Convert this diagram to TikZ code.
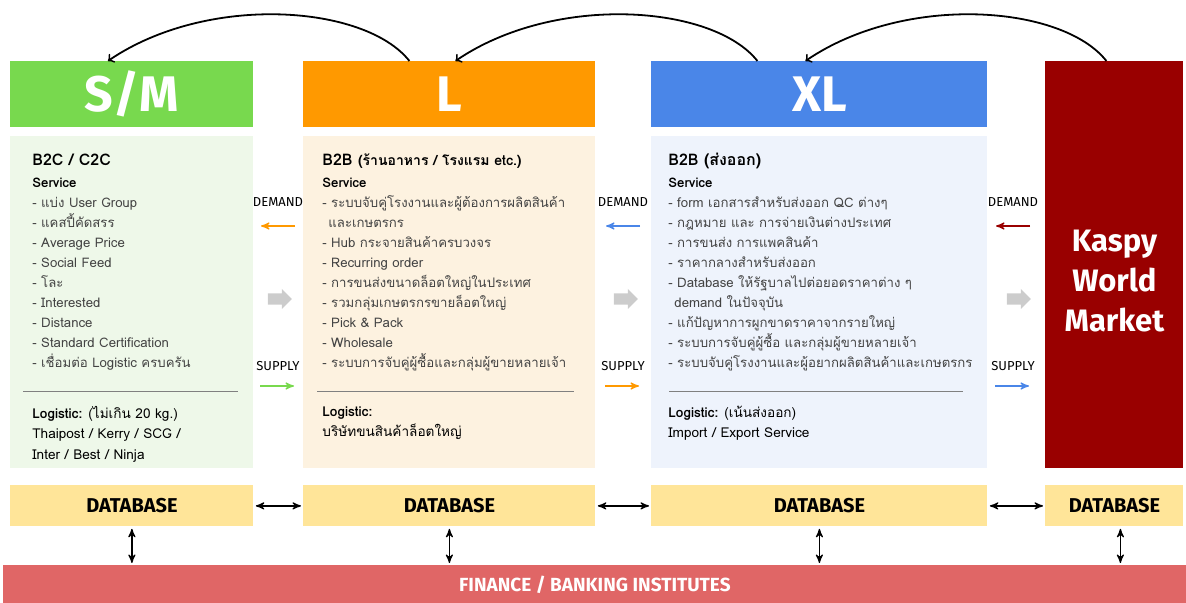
\documentclass[tikz,border=0pt]{standalone}
\usepackage{fontspec}
\setmainfont{Loma}[Script=Thai]
\newfontfamily\hdrfont{Fira Sans}
\usepackage{tikz}
\usetikzlibrary{positioning}
\usetikzlibrary{arrows}
\usetikzlibrary{shapes.arrows}

\definecolor{smgreen}{RGB}{120,217,78}
\definecolor{smbody}{RGB}{238,248,233}
\definecolor{lorange}{RGB}{255,153,0}
\definecolor{lbody}{RGB}{253,242,224}
\definecolor{xlblue}{RGB}{74,134,232}
\definecolor{xlbody}{RGB}{238,243,252}
\definecolor{kaspyred}{RGB}{153,0,0}
\definecolor{dbyellow}{RGB}{255,229,153}
\definecolor{finred}{RGB}{224,102,102}
\definecolor{itemgray}{RGB}{67,67,67}
\definecolor{blockgray}{RGB}{204,204,204}

\begin{document}
\begin{tikzpicture}[x=0.5pt,y=-0.5pt,>=stealth',
	hdr/.style={rectangle,anchor=north west,inner sep=0pt,minimum height=33pt,text=white,font=\hdrfont\bfseries\fontsize{25}{30}\selectfont},
	panel/.style={rectangle,anchor=north west,inner sep=0pt,minimum height=166pt},
	db/.style={rectangle,anchor=north west,inner sep=0pt,minimum height=20.5pt,fill=dbyellow,font=\hdrfont\bfseries\fontsize{10}{12}\selectfont},
	title/.style={anchor=base west,inner sep=0pt,font=\bfseries\fontsize{8}{10}\selectfont},
	items/.style={anchor=north west,inner sep=0pt,align=left,text=itemgray,font=\fontsize{6.6}{10}\selectfont},
	logi/.style={anchor=north west,inner sep=0pt,align=left,text=black,font=\fontsize{6.8}{10.1}\selectfont},
	flowlbl/.style={inner sep=0pt,font=\hdrfont\fontsize{6.5}{8}\selectfont},
	flowarrow/.style={->,line width=0.6pt,shorten >=0pt},
	bigarrow/.style={single arrow,fill=blockgray,inner sep=2.5pt,minimum width=10pt,minimum height=12pt,single arrow head extend=2pt},
	toparc/.style={->,>=to,line width=0.9pt},
	dblink/.style={<->,line width=0.6pt,shorten >=1pt,shorten <=1pt}]

	\useasboundingbox (0,0) rectangle (1186,603);

	% headers
	\node[hdr,fill=smgreen,minimum width=121.5pt] (smhdr) at (10,61) {S/M};
	\node[hdr,fill=lorange,minimum width=146pt] (lhdr) at (303,61) {L};
	\node[hdr,fill=xlblue,minimum width=168pt] (xlhdr) at (651,61) {XL};
	\node[rectangle,anchor=north west,inner sep=0pt,minimum width=69pt,minimum height=203.5pt,fill=kaspyred] (kaspy) at (1045,61) {};
	\node[align=center,text=white,font=\hdrfont\bfseries\fontsize{15.5}{20}\selectfont] (kaspytxt) at ([yshift=-8pt]kaspy.center) {Kaspy\\World\\Market};

	% panels
	\node[panel,fill=smbody,minimum width=121.5pt] (smbody) at (10,136) {};
	\node[panel,fill=lbody,minimum width=146pt] (lbody) at (303,136) {};
	\node[panel,fill=xlbody,minimum width=168pt] (xlbody) at (651,136) {};

	% S/M text
	\node[title] (smtitle) at (32,166) {B2C / C2C};
	\node[items] (smlist) at (32,178) {\textcolor{black}{\textbf{Service}}\\
		- แบ่ง User Group\\
		- แคสปี้คัดสรร\\
		- Average Price\\
		- Social Feed\\
		- โละ\\
		- Interested\\
		- Distance\\
		- Standard Certification\\
		- เชื่อมต่อ Logistic ครบครัน};
	\draw[gray,line width=0.5pt] (23,391) -- (238,391);
	\node[logi] (smlogi) at (32,406) {\textbf{Logistic:} (ไม่เกิน 20 kg.)\\
		Thaipost / Kerry / SCG /\\
		Inter / Best / Ninja};

	% L text
	\node[title] (ltitle) at (322,166) {B2B {\fontsize{7}{10}\selectfont(ร้านอาหาร / โรงแรม etc.)}};
	\node[items] (llist) at (322,178) {\textcolor{black}{\textbf{Service}}\\
		- ระบบจับคู่โรงงานและผู้ต้องการผลิตสินค้า\\
		\hspace{3pt}และเกษตรกร\\
		- Hub กระจายสินค้าครบวงจร\\
		- Recurring order\\
		- การขนส่งขนาดล็อตใหญ่ในประเทศ\\
		- รวมกลุ่มเกษตรกรขายล็อตใหญ่\\
		- Pick \& Pack\\
		- Wholesale\\
		- ระบบการจับคู่ผู้ซื้อและกลุ่มผู้ขายหลายเจ้า};
	\draw[gray,line width=0.5pt] (317,391) -- (574,391);
	\node[logi] (llogi) at (322,406) {\textbf{Logistic:}\\
		บริษัทขนสินค้าล็อตใหญ่};

	% XL text
	\node[title] (xltitle) at (668,166) {B2B (ส่งออก)};
	\node[items] (xllist) at (668,178) {\textcolor{black}{\textbf{Service}}\\
		- form เอกสารสำหรับส่งออก QC ต่างๆ\\
		- กฎหมาย และ การจ่ายเงินต่างประเทศ\\
		- การขนส่ง การแพคสินค้า\\
		- ราคากลางสำหรับส่งออก\\
		- Database ให้รัฐบาลไปต่อยอดราคาต่าง ๆ\\
		\hspace{3pt}demand ในปัจจุบัน\\
		- แก้ปัญหาการผูกขาดราคาจากรายใหญ่\\
		- ระบบการจับคู่ผู้ซื้อ และกลุ่มผู้ขายหลายเจ้า\\
		- ระบบจับคู่โรงงานและผู้อยากผลิตสินค้าและเกษตรกร};
	\draw[gray,line width=0.5pt] (669,391) -- (963,391);
	\node[logi] (xllogi) at (668,406) {\textbf{Logistic:} (เน้นส่งออก)\\
		Import / Export Service};

	% demand / supply
	\node[flowlbl] (dem1) at (278,202) {DEMAND};
	\node[flowlbl] (dem2) at (623,202) {DEMAND};
	\node[flowlbl] (dem3) at (1013,202) {DEMAND};
	\node[flowlbl] (sup1) at (278,366) {SUPPLY};
	\node[flowlbl] (sup2) at (623,366) {SUPPLY};
	\node[flowlbl] (sup3) at (1013,366) {SUPPLY};
	\node[bigarrow] (flow1) at (277,299) {};
	\node[bigarrow] (flow2) at (623,299) {};
	\node[bigarrow] (flow3) at (1016,299) {};

	\draw[flowarrow,lorange] ([xshift=8.5pt,yshift=-12pt]dem1.center) -- ++(-17pt,0);
	\draw[flowarrow,xlblue] ([xshift=8.5pt,yshift=-12pt]dem2.center) -- ++(-17pt,0);
	\draw[flowarrow,kaspyred] ([xshift=8.5pt,yshift=-12pt]dem3.center) -- ++(-17pt,0);
	\draw[flowarrow,smgreen] ([xshift=-9pt,yshift=-10pt]sup1.center) -- ++(17pt,0);
	\draw[flowarrow,lorange] ([xshift=-9pt,yshift=-10pt]sup2.center) -- ++(17pt,0);
	\draw[flowarrow,xlblue] ([xshift=-9pt,yshift=-10pt]sup3.center) -- ++(17pt,0);

	% databases and finance
	\node[db,minimum width=121.5pt] (smdb) at (10,485) {DATABASE};
	\node[db,minimum width=146pt] (ldb) at (303,485) {DATABASE};
	\node[db,minimum width=168pt] (xldb) at (651,485) {DATABASE};
	\node[db,minimum width=69pt] (kdb) at (1045,485) {DATABASE};
	\node[rectangle,anchor=north west,inner sep=0pt,minimum width=591.5pt,minimum height=19pt,fill=finred,text=white,font=\hdrfont\bfseries\fontsize{9.5}{11}\selectfont] (fin) at (3,565) {FINANCE / BANKING INSTITUTES};

	\path[dblink]
	(smdb) edge (ldb)
	(ldb) edge (xldb)
	(xldb) edge (kdb)
	(smdb.south) edge (smdb.south |- fin.north)
	(ldb.south) edge (ldb.south |- fin.north)
	(xldb.south) edge (xldb.south |- fin.north)
	([xshift=3pt]kdb.south) edge ([xshift=3pt]kdb.south |- fin.north);

	% top arcs
	\draw[toparc] ([xshift=-20pt]lhdr.north) .. controls +(-22pt,28pt) and +(50pt,34pt) .. ([xshift=-12pt]smhdr.north);
	\draw[toparc] ([xshift=-31pt]xlhdr.north) .. controls +(-22pt,28pt) and +(50pt,34pt) .. ([xshift=3pt]lhdr.north);
	\draw[toparc] ([xshift=-4pt]kaspy.north) .. controls +(-22pt,28pt) and +(50pt,34pt) .. ([xshift=-7pt]xlhdr.north);
\end{tikzpicture}
\end{document}
